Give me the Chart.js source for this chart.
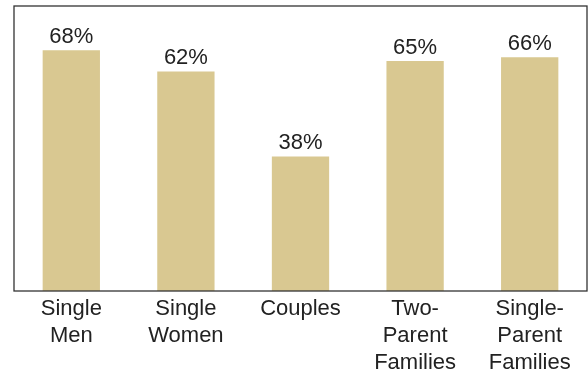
<!DOCTYPE html>
<html>
<head>
<meta charset="utf-8">
<script src="https://cdn.jsdelivr.net/npm/chart.js@4/dist/chart.umd.min.js"></script>
<style>
  body { margin: 0; background: #fff; }
</style>
</head>
<body>
<canvas id="grafico" width="588" height="373"></canvas>
<script>
var categorias = [['Single', 'Men'], ['Single', 'Women'], ['Couples'], ['Two-', 'Parent', 'Families'], ['Single-', 'Parent', 'Families']];
var valores = [68, 62, 38, 65, 66];

// marco alrededor del área del gráfico
var marco = {
    id: 'marco',
    afterDraw: function (chart) {
        var a = chart.chartArea, ctx = chart.ctx;
        ctx.save();
        ctx.strokeStyle = '#333';
        ctx.lineWidth = 1.3;
        ctx.strokeRect(a.left, a.top, a.right - a.left, a.bottom - a.top);
        ctx.restore();
    }
};

// porcentajes encima de cada barra
var etiquetas = {
    id: 'etiquetas',
    afterDatasetsDraw: function (chart) {
        var ctx = chart.ctx;
        ctx.save();
        ctx.font = '22px "Liberation Sans", Arial, sans-serif';
        ctx.fillStyle = '#222';
        ctx.textAlign = 'center';
        ctx.textBaseline = 'alphabetic';
        chart.getDatasetMeta(0).data.forEach(function (bar, i) {
            ctx.fillText(valores[i] + '%', bar.x, bar.y - 7);
        });
        ctx.restore();
    }
};

var ctx = document.getElementById('grafico').getContext('2d');
new Chart(ctx, {
    type: 'bar',
    data: {
        labels: categorias,
        datasets: [{
            data: valores,
            backgroundColor: '#D9C891',
            barPercentage: 0.5,
            categoryPercentage: 1
        }]
    },
    options: {
        responsive: false,
        animation: false,
        layout: { padding: { left: 14, right: 1, top: 6, bottom: 0 } },
        plugins: { legend: { display: false }, tooltip: { enabled: false } },
        scales: {
            x: {
                grid: { display: false },
                border: { display: false },
                afterFit: function (scale) { scale.height = 82; },
                ticks: {
                    color: '#222',
                    padding: -4,
                    maxRotation: 0,
                    autoSkip: false,
                    font: { family: '"Liberation Sans", Arial, sans-serif', size: 22, lineHeight: 1.23 }
                }
            },
            y: {
                display: false,
                min: 0,
                max: 80.5
            }
        }
    },
    plugins: [marco, etiquetas]
});
</script>
</body>
</html>
